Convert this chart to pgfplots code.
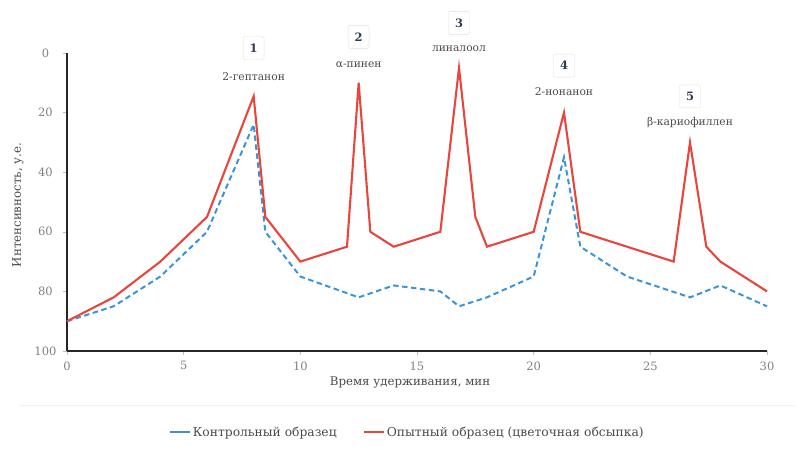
\documentclass[border=0pt]{standalone}
\usepackage{pgfplots}
\pgfplotsset{compat=1.18}
\usepackage{fontspec}
\setmainfont{DejaVu Serif}
\definecolor{redl}{HTML}{E8453C}
\definecolor{bluel}{HTML}{3A95D6}
\definecolor{txt}{HTML}{4A4A4A}
\definecolor{navy}{HTML}{2C3E50}
\begin{document}
\begin{tikzpicture}[x=1pt,y=1pt]
\useasboundingbox (0,0) rectangle (812,450);
\begin{axis}[
  at={(67pt,99pt)}, anchor=south west,
  scale only axis, width=700pt, height=298pt,
  xmin=0, xmax=30, ymin=0, ymax=100, y dir=reverse,
  xtick={0,5,10,15,20,25,30}, ytick={0,20,40,60,80,100},
  axis x line=bottom, axis y line=left,
  axis line style={black!85, line width=1.6pt, -},
  tick style={gray!50, line width=0.4pt},
  major tick length=4pt,
  tick align=outside,
  xtick pos=bottom, ytick pos=left,
  /pgf/number format/assume math mode=true,
  ticklabel style={font=\fontsize{11.5}{13}\selectfont, text=gray},
  xticklabel style={yshift=-3pt},
  yticklabel style={xshift=-3pt, text width=22pt, align=center},
  xlabel={Время удерживания, мин},
  ylabel={Интенсивность, у.е.},
  label style={font=\fontsize{11.8}{13}\selectfont, text=txt},
  xlabel style={at={(axis description cs:0.49,-0.107)}, anchor=center},
  ylabel style={at={(axis description cs:-0.07,0.49)}, anchor=center, rotate=0},
  legend columns=2,
  legend style={at={(axis description cs:0.486,-0.272)}, anchor=center, draw=none, fill=none,
    font=\fontsize{12.3}{14}\selectfont, text=txt,
    /tikz/every even column/.append style={column sep=24pt}},
  legend image code/.code={\draw[#1, solid, line width=2.2pt] (0pt,0pt) -- (20pt,0pt);},
  clip=false,
]
\addplot[bluel, line width=2pt, dash pattern=on 5.5pt off 3.5pt] coordinates {
(0,90) (2,85) (4,75) (6,60) (8,24) (8.5,60) (10,75) (12.5,82) (14,78) (16,80) (16.8,85) (18,82) (20,75) (21.3,35) (22,65) (24,75) (26.7,82) (28,78) (30,85)
};
\addlegendentry{Контрольный образец}
\addplot[redl, line width=2.1pt] coordinates {
(0,90) (2,82) (4,70) (6,55) (8,14.5) (8.5,55) (10,70) (12,65) (12.5,10) (13,60) (14,65) (16,60) (16.8,5) (17.5,55) (18,65) (20,60) (21.3,20) (22,60) (26,70) (26.7,30) (27.4,65) (28,70) (30,80)
};
\addlegendentry{Опытный образец (цветочная обсыпка)}
\tikzset{lab/.style={font=\fontsize{10.7}{12}\selectfont, text=txt, anchor=center},
  box/.style={draw=gray!25, fill=white, rounded corners=2pt, minimum width=21pt, minimum height=23pt, font=\bfseries\fontsize{11.5}{13}\selectfont, text=navy, anchor=center}}
\node[lab, yshift=20pt] at (axis cs:8,14.5) {2-гептанон};
\node[box, yshift=48pt] at (axis cs:8,14.5) {1};
\node[lab, yshift=18pt] at (axis cs:12.5,10) {α-пинен};
\node[box, yshift=46pt] at (axis cs:12.5,10) {2};
\node[lab, yshift=19pt] at (axis cs:16.8,5) {линалоол};
\node[box, yshift=45pt] at (axis cs:16.8,5) {3};
\node[lab, yshift=21pt] at (axis cs:21.3,20) {2-нонанон};
\node[box, yshift=47pt] at (axis cs:21.3,20) {4};
\node[lab, yshift=20pt] at (axis cs:26.7,30) {β-кариофиллен};
\node[box, yshift=46pt] at (axis cs:26.7,30) {5};
\draw[gray!12, line width=0.8pt] (axis description cs:-0.067,-0.181) -- (axis description cs:1.04,-0.181);
\end{axis}
\end{tikzpicture}
\end{document}
